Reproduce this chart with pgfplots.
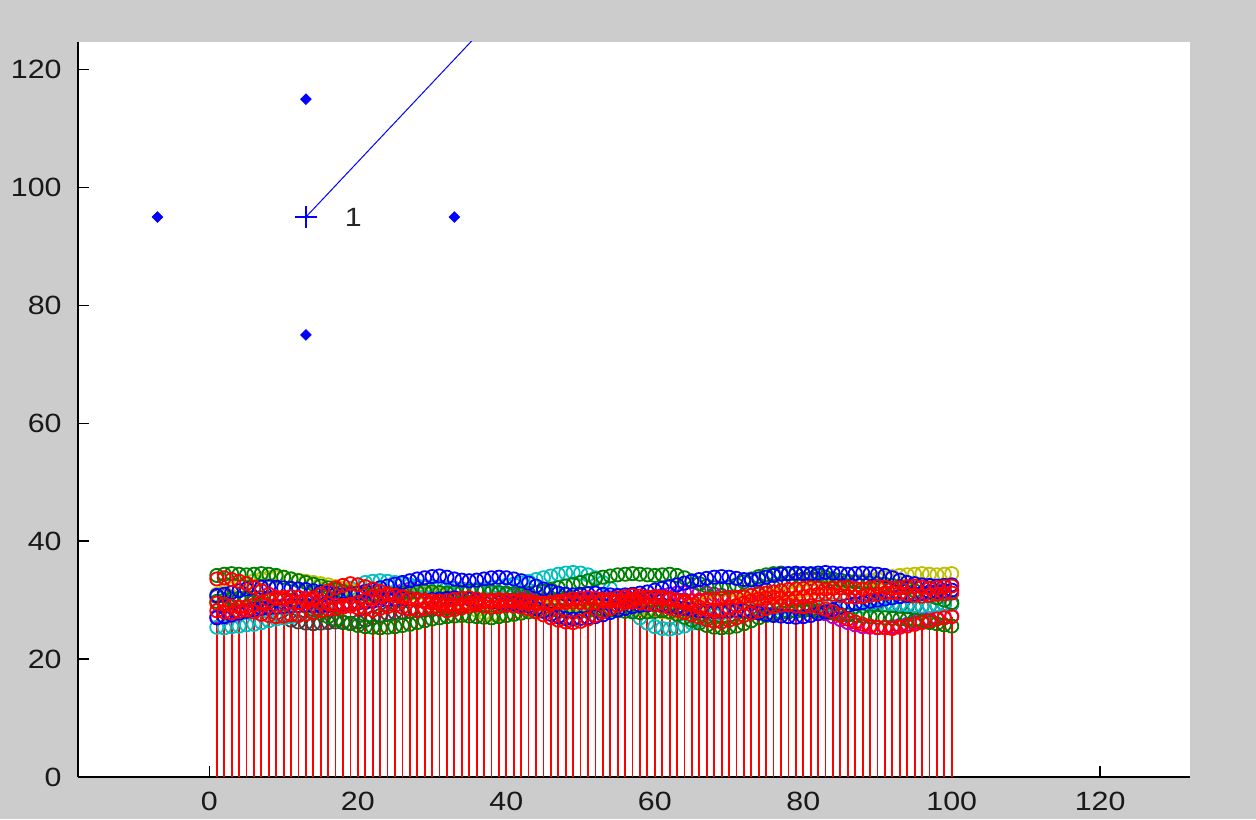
\documentclass[border=0pt]{standalone}
\usepackage{fontspec}
\setmainfont[FakeStretch=1.15]{Liberation Sans}
\usepackage{pgfplots}
\usepackage{pgfplotstable}
\pgfplotsset{compat=1.18}
\definecolor{mb}{rgb}{0,0,1}
\definecolor{mg}{rgb}{0,0.5,0}
\definecolor{mr}{rgb}{1,0,0}
\definecolor{mc}{rgb}{0,0.75,0.75}
\definecolor{mm}{rgb}{0.75,0,0.75}
\definecolor{my}{rgb}{0.75,0.75,0}
\definecolor{mk}{rgb}{0.25,0.25,0.25}
\definecolor{bg}{RGB}{204,204,204}
\pgfplotstableread{
name 1 2 3 4 5 6 7 8 9 10 11 12 13 14 15 16 17 18 19 20 21 22 23 24 25 26 27 28 29 30 31 32 33 34 35 36 37 38 39 40 41 42 43 44 45 46 47 48 49 50 51 52 53 54 55 56 57 58 59 60 61 62 63 64 65 66 67 68 69 70 71 72 73 74 75 76 77 78 79 80 81 82 83 84 85 86 87 88 89 90 91 92 93 94 95 96 97 98 99 100
ra 28.2 28.0 27.8 28.1 28.3 28.0 27.6 27.4 27.2 27.3 27.5 27.4 27.6 27.9 28.2 28.5 28.6 28.8 29.0 28.7 28.5 28.3 28.6 28.9 29.1 28.8 28.5 28.3 28.6 28.8 28.5 28.2 28.4 28.7 29.0 29.2 29.0 28.8 28.9 29.1 29.0 28.8 28.5 28.0 27.5 27.0 26.6 26.3 26.2 26.4 26.8 27.4 28.0 28.6 29.1 29.5 29.7 29.6 29.4 29.2 29.0 28.7 28.3 27.9 27.5 27.1 26.7 26.4 26.3 26.6 27.0 27.4 27.8 28.2 28.6 28.9 29.1 29.2 29.0 28.9 29.0 28.8 28.5 28.0 27.4 26.8 26.3 25.9 25.6 25.4 25.3 25.2 25.4 25.6 25.9 26.2 26.5 26.8 27.0 27.2
rb 33.6 33.8 33.5 33.2 32.8 32.2 31.6 31.0 30.5 30.1 29.8 29.6 29.9 30.4 31.0 31.6 32.1 32.5 32.8 32.6 32.3 31.9 31.5 31.1 30.8 30.5 30.3 30.1 30.0 29.9 29.8 29.9 30.1 30.3 30.4 30.2 30.0 29.8 29.7 29.8 29.9 30.0 29.8 29.6 29.5 29.4 29.5 29.6 29.7 29.6 29.5 29.6 29.8 30.1 30.4 30.6 30.8 30.7 30.5 30.4 30.3 30.1 29.9 29.8 29.9 30.0 30.1 30.2 30.3 30.4 30.5 30.6 30.8 31.0 31.2 31.4 31.6 31.8 31.9 32.0 32.1 32.0 31.9 32.0 32.1 32.2 32.0 31.9 32.1 32.3 32.2 32.0 32.1 32.3 32.4 32.2 32.0 32.1 32.3 32.4
rc 29.5 29.3 29.0 28.8 28.9 29.2 29.6 30.0 30.3 30.5 30.6 30.5 30.3 30.0 29.7 29.4 29.2 29.1 29.3 29.6 30.0 30.4 30.7 30.9 30.8 30.6 30.3 30.0 29.7 29.5 29.3 29.2 29.1 29.2 29.4 29.6 29.8 30.0 30.1 30.0 29.8 29.6 29.4 29.3 29.4 29.6 29.8 30.0 30.2 30.3 30.4 30.3 30.1 29.9 29.8 29.9 30.1 30.3 30.5 30.6 30.5 30.3 30.0 29.6 29.2 28.8 28.5 28.3 28.4 28.7 29.1 29.5 29.9 30.2 30.4 30.5 30.4 30.3 30.4 30.6 30.8 31.0 31.1 31.0 30.8 30.6 30.5 30.6 30.8 31.0 31.2 31.3 31.2 31.0 30.8 30.7 30.8 31.0 31.1 31.2
ba 30.8 31.0 31.3 31.6 31.9 32.1 32.2 32.3 32.2 32.1 32.0 31.9 31.8 31.6 31.4 31.2 31.0 30.9 31.0 31.2 31.5 31.8 32.1 32.4 32.7 33.0 33.3 33.6 33.8 34.0 34.1 33.9 33.6 33.4 33.3 33.4 33.6 33.8 33.9 33.8 33.6 33.3 32.9 32.4 31.9 31.5 31.2 31.0 30.9 31.0 31.1 31.2 31.0 30.9 30.8 30.9 31.0 31.2 31.4 31.7 32.0 32.3 32.6 32.9 33.2 33.5 33.7 33.9 34.0 33.9 33.7 33.5 33.4 33.6 33.9 34.2 34.4 34.5 34.6 34.5 34.5 34.6 34.7 34.6 34.5 34.4 34.5 34.6 34.5 34.4 34.2 33.8 33.4 33.0 32.8 32.6 32.5 32.4 32.5 32.6
bb 27.0 27.2 27.5 27.8 28.1 28.4 28.6 28.7 28.8 28.9 29.0 29.1 29.2 29.1 29.0 29.1 29.2 29.3 29.4 29.5 29.6 29.8 30.0 30.1 30.2 30.3 30.2 30.1 30.0 30.1 30.2 30.3 30.4 30.3 30.2 30.0 29.8 29.7 29.6 29.5 29.4 29.2 29.0 28.6 28.1 27.6 27.2 26.9 26.8 26.9 27.0 27.2 27.5 27.9 28.3 28.6 28.9 29.1 29.2 29.3 29.2 29.0 28.8 28.6 28.4 28.2 28.1 28.0 28.1 28.2 28.3 28.2 28.0 27.8 27.6 27.4 27.3 27.2 27.1 27.2 27.4 27.7 28.0 28.4 28.8 29.1 29.4 29.6 29.8 30.0 30.2 30.4 30.6 30.8 31.0 31.2 31.4 31.5 31.6 31.7
ga 34.2 34.4 34.5 34.4 34.3 34.4 34.5 34.4 34.2 33.9 33.6 33.3 33.0 32.7 32.4 32.1 31.8 31.5 31.3 31.1 31.0 30.9 30.8 30.9 31.0 31.2 31.3 31.4 31.5 31.4 31.3 31.2 31.3 31.4 31.5 31.6 31.5 31.4 31.3 31.2 31.1 31.0 31.1 31.3 31.5 31.8 32.1 32.4 32.7 33.0 33.3 33.6 33.9 34.1 34.3 34.4 34.5 34.4 34.3 34.2 34.3 34.4 34.2 33.8 33.3 32.8 32.4 32.1 32.0 32.2 32.6 33.1 33.6 34.0 34.3 34.5 34.6 34.5 34.4 34.5 34.4 34.2 33.9 33.6 33.4 33.2 33.1 33.0 32.9 32.8 32.7 32.5 32.3 32.0 31.6 31.2 30.8 30.4 30.0 29.6
gb 29.8 30.0 30.2 30.3 30.4 30.5 30.4 30.3 30.2 30.1 30.0 29.6 29.0 28.4 27.8 27.2 26.7 26.3 26.0 25.7 25.5 25.4 25.3 25.4 25.5 25.7 25.9 26.2 26.5 26.8 27.0 27.2 27.3 27.4 27.3 27.2 27.1 27.0 27.2 27.4 27.6 27.8 28.0 28.1 28.2 28.3 28.2 28.1 28.0 28.1 28.2 28.3 28.4 28.3 28.2 28.1 28.0 27.9 28.0 28.1 28.2 28.0 27.6 27.1 26.6 26.1 25.7 25.4 25.3 25.4 25.6 26.0 26.5 27.0 27.4 27.7 27.9 28.0 28.1 28.2 28.3 28.2 28.0 27.8 27.6 27.5 27.4 27.3 27.2 27.1 27.0 26.9 26.8 26.7 26.6 26.4 26.2 26.0 25.8 25.6
ca 25.4 25.3 25.5 25.6 25.8 25.9 26.2 26.5 26.8 27.0 27.2 27.4 27.7 28.2 28.9 29.7 30.5 31.3 32.0 32.6 33.0 33.2 33.3 33.2 33.0 32.8 32.6 32.4 32.3 32.2 32.1 32.0 31.9 31.8 31.7 31.8 31.9 32.1 32.3 32.5 32.7 32.9 33.2 33.5 33.8 34.1 34.4 34.6 34.7 34.6 34.3 33.8 33.0 32.0 30.8 29.5 28.2 27.0 26.1 25.5 25.2 25.1 25.3 25.6 26.1 26.6 27.1 27.5 27.8 28.0 28.1 28.2 28.3 28.4 28.5 28.6 28.7 28.8 28.9 29.0 29.1 29.2 29.3 29.2 29.1 29.0 28.9 29.0 29.1 29.2 29.3 29.4 29.3 29.2 29.1 29.0 29.1 29.2 29.3 29.4
ya 31.0 31.4 31.9 32.4 32.9 33.3 33.6 33.8 33.9 33.8 33.6 33.4 33.2 33.0 32.8 32.6 32.3 32.0 31.7 31.4 31.2 31.0 30.9 30.8 30.9 31.0 31.1 31.2 31.3 31.2 31.0 30.6 30.1 29.5 28.9 28.3 27.8 27.5 27.3 27.4 27.6 27.9 28.2 28.5 28.8 29.0 29.1 29.2 29.1 29.0 28.9 28.8 28.9 29.0 29.1 29.0 28.8 28.6 28.4 28.2 28.0 27.9 28.0 28.3 28.7 29.2 29.6 29.9 30.1 30.0 29.9 30.0 30.2 30.4 30.6 30.8 31.0 31.2 31.4 31.6 31.8 32.0 32.3 32.6 32.9 33.1 33.2 33.3 33.4 33.6 33.8 34.0 34.2 34.3 34.4 34.5 34.4 34.3 34.4 34.5
ma 27.2 27.0 27.3 27.6 28.0 28.4 28.7 28.9 29.0 29.1 29.2 29.1 29.0 28.9 29.0 29.1 29.2 29.3 29.4 29.5 29.7 30.0 30.4 30.8 31.2 31.6 31.9 32.1 32.2 32.3 32.2 32.1 32.0 31.9 31.8 31.7 31.6 31.4 31.2 31.0 30.8 30.6 30.4 30.2 30.1 30.0 29.9 29.8 29.9 30.0 30.1 30.2 30.3 30.4 30.3 30.2 30.1 30.2 30.4 30.6 30.8 31.0 31.2 31.3 31.4 31.3 31.2 31.0 30.8 30.5 30.2 29.9 29.6 29.3 29.1 29.0 28.9 28.8 28.7 28.6 28.4 28.1 27.7 27.2 26.7 26.2 25.8 25.5 25.4 25.3 25.4 25.5 25.7 25.9 26.2 26.5 26.8 27.0 27.2 27.3
ka 30.6 30.7 30.5 30.3 30.1 29.8 29.2 28.5 27.8 27.1 26.6 26.3 26.1 26.0 26.1 26.2 26.3 26.2 26.1 26.3 26.6 27.0 27.4 27.7 27.9 28.0 28.1 28.2 28.3 28.4 28.5 28.6 28.8 29.0 29.2 29.4 29.6 29.8 29.9 30.0 30.1 30.2 30.1 30.0 29.9 30.0 30.1 30.2 30.1 30.0 29.9 30.0 30.1 30.2 30.3 30.2 30.1 30.0 30.1 30.2 30.3 30.2 30.1 30.0 29.9 29.8 29.9 30.0 30.1 30.2 30.3 30.5 30.8 31.2 31.7 32.2 32.7 33.1 33.4 33.6 33.7 33.6 33.4 33.1 32.6 32.0 31.3 30.6 30.0 29.6 29.3 29.1 29.0 28.9 28.8 28.9 29.0 29.1 29.2 29.3
}\rawdata
\pgfplotstabletranspose[colnames from=name,input colnames to=x]{\nodes}{\rawdata}
\begin{document}
\begin{tikzpicture}[x=1pt,y=1pt]
\path[use as bounding box, fill=bg] (-39,-21) rectangle (589,388.5);
\begin{axis}[
  at={(0,0)}, anchor=south west,
  width=556pt, height=367.5pt, scale only axis,
  xmin=-17.7, xmax=132.1, ymin=0, ymax=124.7,
  axis x line=bottom, axis y line=left,
  axis line style={black, line width=0.9pt, -},
  axis background/.style={fill=white},
  tick align=inside, major tick length=5.5pt,
  tick style={black, line width=0.8pt},
  xtick={0,20,...,120}, ytick={0,20,...,120},
  ticklabel style={font=\fontsize{13.2}{15}\selectfont, text=black!90, inner sep=0pt},
  xticklabel style={anchor=north, yshift=-7.2pt},
  yticklabel style={anchor=east, xshift=-8pt},
  /pgf/number format/assume math mode=true,
  clip=true,
  every axis plot/.append style={mark size=3.3pt, mark options={line width=0.9pt}},
]
\addplot[mk, only marks, mark=o] table[x=x,y=ka]{\nodes};
\addplot[mm, only marks, mark=o] table[x=x,y=ma]{\nodes};
\addplot[mc, only marks, mark=o] table[x=x,y=ca]{\nodes};
\addplot[my, only marks, mark=o] table[x=x,y=ya]{\nodes};
\addplot[mg, only marks, mark=o] table[x=x,y=ga]{\nodes};
\addplot[mg, only marks, mark=o] table[x=x,y=gb]{\nodes};
\addplot[mb, only marks, mark=o] table[x=x,y=ba]{\nodes};
\addplot[mb, only marks, mark=o] table[x=x,y=bb]{\nodes};
\addplot[mr, only marks, mark=o] table[x=x,y=rc]{\nodes};
\addplot[mr, only marks, mark=o] table[x=x,y=rb]{\nodes};
\addplot[mr, ycomb, no marks, line width=0.9pt] table[x=x,y=ra]{\nodes};
\addplot[mr, only marks, mark=o] table[x=x,y=ra]{\nodes};
% node neighbourhood
\addplot[mb, only marks, mark=square*, mark size=1.9pt, mark options={rotate=45, line width=0.3pt}] coordinates {(-7,95) (13,115) (33,95) (13,75)};
\addplot[mb, line width=0.5pt, no marks] coordinates {(13,95) (50,144.5)};
\addplot[mb, only marks, mark=+, mark size=5.4pt, mark options={line width=0.8pt}] coordinates {(13,95)};
\node[anchor=west, inner sep=0pt, text=black!85, font=\fontsize{13.2}{15}\selectfont] at (axis cs:18.2,95) {1};
\end{axis}
\end{tikzpicture}
\end{document}
